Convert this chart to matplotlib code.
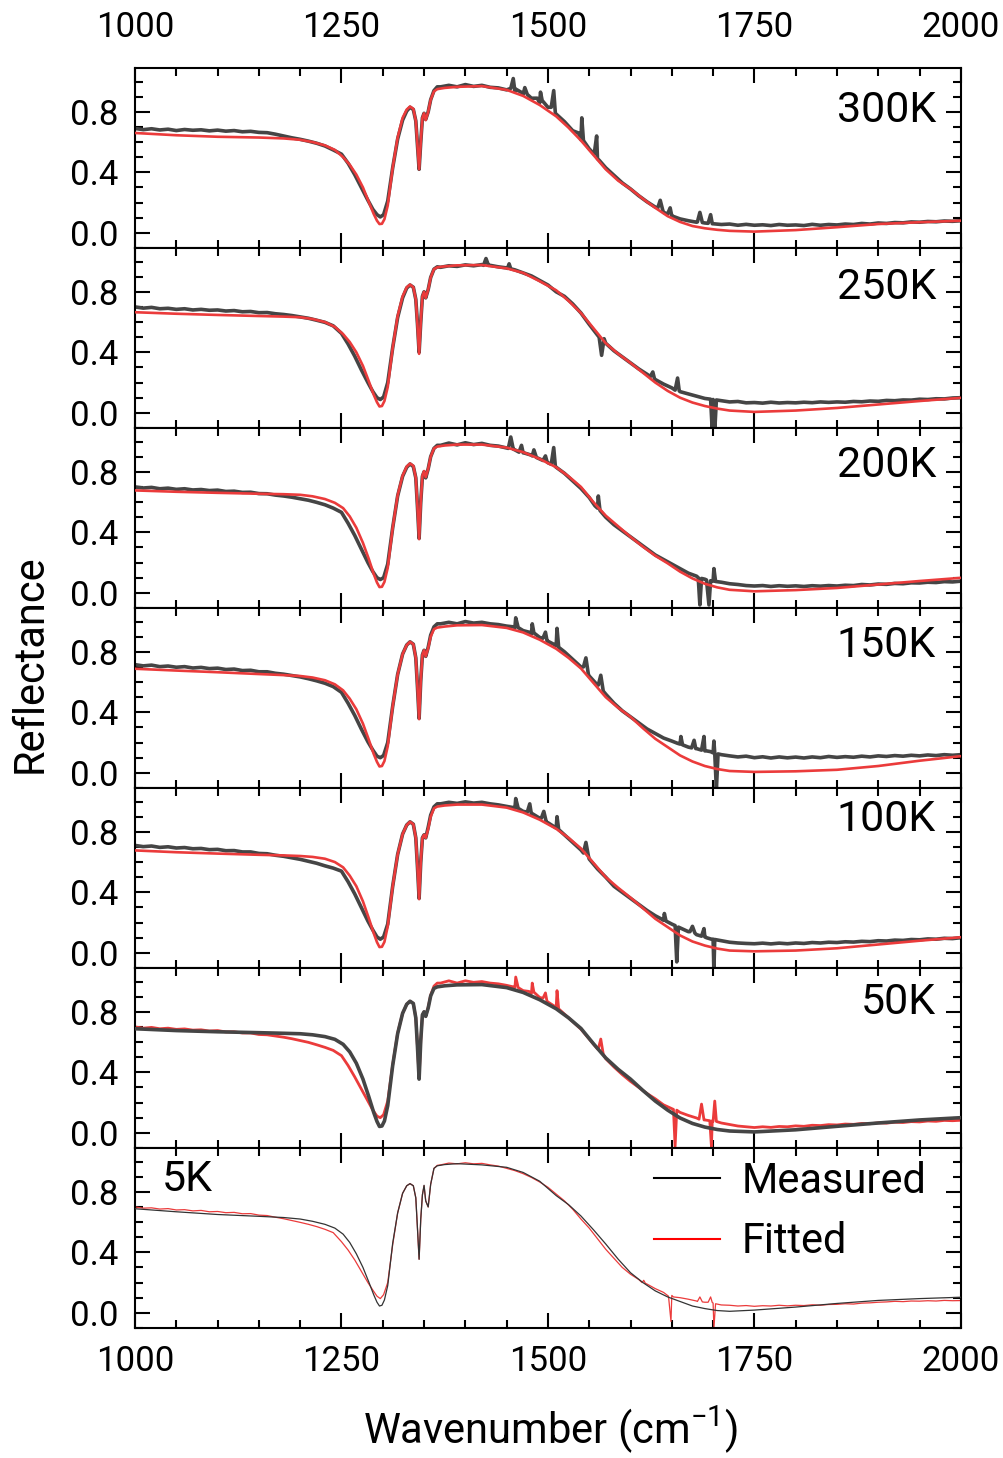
import matplotlib.pyplot as plt
import numpy as np
from matplotlib.lines import Line2D
from matplotlib.ticker import MultipleLocator

plt.rcParams["font.family"] = "Roboto"
plt.rcParams["mathtext.fontset"] = "custom"
plt.rcParams["mathtext.rm"] = "Roboto"
plt.rcParams["mathtext.default"] = "regular"

# wavenumber grid of the measured spectra (cm-1)
wn_meas = (list(range(1000, 1250, 10))
           + [1250, 1258, 1266, 1274, 1282, 1288, 1293, 1297, 1301, 1306, 1312,
              1318, 1324, 1329, 1333, 1337, 1340, 1342, 1344, 1346, 1348, 1350,
              1352, 1355, 1358, 1362, 1366]
           + list(range(1370, 2001, 10)))

# wavenumber grid of the fitted curves
wn_fit = [1000, 1050, 1100, 1150, 1180, 1200, 1215, 1230, 1242, 1252, 1260, 1268, 1276,
          1283, 1289, 1293, 1296, 1299, 1302, 1306, 1312, 1318, 1324, 1329, 1333, 1337,
          1340, 1342, 1344, 1346, 1348, 1350, 1352, 1355, 1358, 1362, 1366, 1375, 1390,
          1420, 1450, 1470, 1490, 1510, 1525, 1540, 1555, 1570, 1585, 1600, 1615, 1630,
          1645, 1660, 1675, 1690, 1705, 1720, 1750, 1800, 1850, 1900, 1950, 2000]

# measured reflectance
m300 = [0.690, 0.682, 0.688, 0.680, 0.685, 0.676, 0.683, 0.678, 0.681, 0.674, 0.679, 0.672, 0.676, 0.668, 0.671, 0.664, 0.662, 0.652, 0.640, 0.628, 0.618, 0.606, 0.592, 0.574, 0.548,
        0.52, 0.46, 0.385, 0.30, 0.215, 0.155, 0.12, 0.105, 0.12, 0.21, 0.43, 0.62, 0.745, 0.805, 0.83, 0.815, 0.74, 0.58, 0.42, 0.60, 0.76, 0.79, 0.75, 0.80, 0.88, 0.94, 0.965,
        0.965, 0.975, 0.965, 0.98, 0.968, 0.975, 0.962, 0.958, 0.945, 0.935, 0.915, 0.89, 0.86, 0.83, 0.785, 0.735, 0.675, 0.615, 0.555, 0.49, 0.43, 0.38, 0.33, 0.29, 0.245, 0.205, 0.17, 0.135, 0.11, 0.092, 0.08, 0.07,
        0.065, 0.06, 0.055, 0.058, 0.05, 0.056, 0.05, 0.053, 0.048, 0.055, 0.05, 0.052, 0.048, 0.056, 0.05, 0.055, 0.052, 0.058, 0.055, 0.062, 0.058, 0.065, 0.062, 0.068, 0.066, 0.072, 0.07, 0.075, 0.073, 0.078, 0.076, 0.08]
m250 = [0.700, 0.692, 0.697, 0.688, 0.691, 0.684, 0.688, 0.680, 0.684, 0.678, 0.680, 0.673, 0.676, 0.668, 0.670, 0.662, 0.663, 0.655, 0.650, 0.643, 0.634, 0.625, 0.612, 0.598, 0.575,
        0.525, 0.455, 0.375, 0.285, 0.20, 0.14, 0.10, 0.088, 0.105, 0.20, 0.43, 0.63, 0.76, 0.825, 0.845, 0.83, 0.75, 0.59, 0.40, 0.60, 0.77, 0.80, 0.76, 0.815, 0.895, 0.95, 0.965,
        0.962, 0.972, 0.968, 0.978, 0.972, 0.98, 0.975, 0.965, 0.958, 0.945, 0.925, 0.905, 0.875, 0.845, 0.80, 0.77, 0.72, 0.66, 0.585, 0.515, 0.46, 0.41, 0.37, 0.33, 0.29, 0.255, 0.22, 0.19, 0.165, 0.14, 0.125, 0.11,
        0.095, 0.088, 0.08, 0.072, 0.075, 0.066, 0.068, 0.064, 0.07, 0.065, 0.068, 0.066, 0.07, 0.067, 0.072, 0.069, 0.072, 0.07, 0.075, 0.073, 0.078, 0.076, 0.082, 0.08, 0.085, 0.084, 0.09, 0.088, 0.093, 0.092, 0.098, 0.10]
m200 = [0.700, 0.693, 0.697, 0.688, 0.692, 0.684, 0.688, 0.680, 0.683, 0.676, 0.679, 0.670, 0.672, 0.664, 0.665, 0.656, 0.655, 0.646, 0.640, 0.632, 0.622, 0.612, 0.598, 0.582, 0.560,
        0.532, 0.46, 0.38, 0.29, 0.20, 0.14, 0.10, 0.088, 0.10, 0.19, 0.43, 0.64, 0.77, 0.83, 0.852, 0.835, 0.76, 0.57, 0.36, 0.60, 0.77, 0.80, 0.76, 0.82, 0.90, 0.955, 0.975,
        0.975, 0.99, 0.978, 0.992, 0.98, 0.988, 0.975, 0.97, 0.958, 0.945, 0.925, 0.91, 0.885, 0.86, 0.83, 0.79, 0.74, 0.69, 0.63, 0.56, 0.50, 0.45, 0.41, 0.37, 0.33, 0.29, 0.25, 0.22, 0.19, 0.16, 0.13, 0.11,
        0.09, 0.077, 0.07, 0.06, 0.055, 0.048, 0.045, 0.048, 0.042, 0.047, 0.043, 0.046, 0.042, 0.047, 0.044, 0.048, 0.045, 0.05, 0.048, 0.055, 0.052, 0.058, 0.056, 0.062, 0.06, 0.066, 0.065, 0.07, 0.068, 0.074, 0.072, 0.077]
m150 = [0.715, 0.707, 0.712, 0.702, 0.706, 0.698, 0.702, 0.693, 0.697, 0.689, 0.692, 0.683, 0.686, 0.676, 0.678, 0.668, 0.668, 0.658, 0.652, 0.643, 0.634, 0.622, 0.608, 0.592, 0.570,
        0.532, 0.46, 0.38, 0.29, 0.205, 0.15, 0.11, 0.10, 0.115, 0.20, 0.44, 0.65, 0.785, 0.845, 0.866, 0.85, 0.76, 0.57, 0.36, 0.61, 0.78, 0.81, 0.77, 0.83, 0.91, 0.965, 0.985,
        0.985, 0.995, 0.985, 1.0, 0.99, 0.995, 0.985, 0.98, 0.97, 0.96, 0.94, 0.92, 0.895, 0.87, 0.84, 0.80, 0.75, 0.70, 0.64, 0.58, 0.52, 0.46, 0.41, 0.37, 0.33, 0.29, 0.26, 0.23, 0.21, 0.19, 0.17, 0.16,
        0.145, 0.132, 0.12, 0.112, 0.105, 0.11, 0.10, 0.106, 0.098, 0.105, 0.099, 0.104, 0.098, 0.105, 0.10, 0.108, 0.102, 0.107, 0.103, 0.11, 0.105, 0.112, 0.108, 0.114, 0.11, 0.116, 0.112, 0.118, 0.114, 0.12, 0.116, 0.12]
m100 = [0.710, 0.702, 0.706, 0.697, 0.701, 0.693, 0.696, 0.688, 0.690, 0.682, 0.684, 0.675, 0.676, 0.667, 0.667, 0.657, 0.655, 0.645, 0.638, 0.628, 0.618, 0.605, 0.592, 0.575, 0.560,
        0.54, 0.47, 0.39, 0.30, 0.21, 0.15, 0.105, 0.09, 0.105, 0.19, 0.44, 0.65, 0.785, 0.845, 0.866, 0.85, 0.76, 0.57, 0.36, 0.60, 0.76, 0.78, 0.76, 0.83, 0.91, 0.965, 0.985,
        0.985, 0.995, 0.988, 0.998, 0.99, 0.995, 0.985, 0.978, 0.968, 0.955, 0.935, 0.915, 0.89, 0.86, 0.825, 0.78, 0.73, 0.68, 0.62, 0.555, 0.50, 0.44, 0.40, 0.36, 0.32, 0.28, 0.245, 0.215, 0.19, 0.165, 0.14, 0.12,
        0.105, 0.09, 0.08, 0.07, 0.065, 0.062, 0.06, 0.064, 0.059, 0.064, 0.06, 0.065, 0.062, 0.068, 0.065, 0.07, 0.068, 0.073, 0.071, 0.076, 0.074, 0.08, 0.078, 0.084, 0.082, 0.088, 0.086, 0.092, 0.09, 0.096, 0.094, 0.10]
m50 = [0.700, 0.692, 0.697, 0.688, 0.692, 0.684, 0.687, 0.679, 0.681, 0.673, 0.676, 0.667, 0.668, 0.660, 0.660, 0.650, 0.648, 0.640, 0.632, 0.622, 0.610, 0.598, 0.582, 0.565, 0.545,
       0.51, 0.445, 0.37, 0.29, 0.21, 0.15, 0.11, 0.10, 0.12, 0.21, 0.45, 0.66, 0.79, 0.85, 0.87, 0.855, 0.76, 0.57, 0.36, 0.61, 0.78, 0.80, 0.77, 0.83, 0.91, 0.97, 0.99,
       0.99, 1.005, 0.99, 1.005, 0.995, 1.0, 0.99, 0.985, 0.975, 0.96, 0.94, 0.92, 0.895, 0.865, 0.83, 0.785, 0.735, 0.685, 0.62, 0.555, 0.49, 0.435, 0.385, 0.34, 0.30, 0.26, 0.225, 0.185, 0.16, 0.135, 0.115, 0.098,
       0.085, 0.075, 0.065, 0.055, 0.045, 0.04, 0.035, 0.04, 0.036, 0.042, 0.04, 0.046, 0.043, 0.05, 0.048, 0.054, 0.052, 0.058, 0.056, 0.062, 0.06, 0.066, 0.064, 0.07, 0.068, 0.074, 0.072, 0.078, 0.076, 0.082, 0.08, 0.083]
m5 = [0.700, 0.692, 0.694, 0.686, 0.689, 0.680, 0.682, 0.674, 0.677, 0.668, 0.670, 0.662, 0.664, 0.655, 0.656, 0.646, 0.643, 0.632, 0.622, 0.610, 0.598, 0.585, 0.570, 0.552, 0.530,
      0.47, 0.415, 0.35, 0.275, 0.20, 0.15, 0.11, 0.094, 0.12, 0.20, 0.45, 0.66, 0.79, 0.84, 0.854, 0.84, 0.76, 0.56, 0.354, 0.62, 0.78, 0.84, 0.74, 0.70, 0.85, 0.955, 0.975,
      0.978, 0.99, 0.985, 0.992, 0.985, 0.988, 0.978, 0.97, 0.955, 0.94, 0.92, 0.895, 0.865, 0.83, 0.785, 0.74, 0.685, 0.62, 0.56, 0.49, 0.42, 0.36, 0.30, 0.255, 0.22, 0.19, 0.16, 0.135, 0.115, 0.10, 0.09, 0.078,
      0.07, 0.065, 0.052, 0.05, 0.045, 0.048, 0.043, 0.047, 0.045, 0.05, 0.046, 0.05, 0.048, 0.053, 0.05, 0.055, 0.056, 0.06, 0.058, 0.064, 0.066, 0.07, 0.072, 0.076, 0.074, 0.078, 0.077, 0.08, 0.078, 0.082, 0.08, 0.081]

# narrow features (sharp lines / detector glitches) in the measured spectra
spk300 = [(1455, 0.955), (1458, 1.02), (1461, 0.95), (1469, 0.925), (1472, 0.96), (1475, 0.915),
          (1487, 0.89), (1491, 0.93), (1493, 0.875), (1504, 0.83), (1507, 0.94), (1509, 0.79),
          (1537, 0.66), (1541, 0.76), (1543, 0.61), (1556, 0.52), (1559, 0.64), (1562, 0.48),
          (1633, 0.165), (1636, 0.215), (1639, 0.15), (1645, 0.125), (1648, 0.165), (1651, 0.11),
          (1681, 0.072), (1684, 0.135), (1687, 0.068), (1694, 0.063), (1697, 0.12), (1699, 0.06)]
spk250 = [(1422, 0.975), (1425, 1.02), (1428, 0.975), (1451, 0.955), (1453, 0.985), (1455, 0.952),
          (1562, 0.50), (1565, 0.38), (1568, 0.49), (1624, 0.24), (1627, 0.27), (1629, 0.225),
          (1654, 0.15), (1657, 0.23), (1659, 0.145), (1697, 0.09), (1699, -0.12), (1701, 0.06),
          (1702, -0.12), (1704, 0.085)]
spk200 = [(1452, 0.955), (1455, 1.03), (1458, 0.95), (1465, 0.93), (1468, 0.975), (1471, 0.925),
          (1481, 0.905), (1483, 0.945), (1486, 0.895), (1494, 0.875), (1497, 0.905), (1499, 0.865),
          (1504, 0.85), (1507, 0.96), (1509, 0.835), (1557, 0.575), (1561, 0.64), (1563, 0.545),
          (1682, 0.10), (1684, -0.08), (1686, 0.095), (1692, 0.085), (1695, -0.08), (1697, 0.08),
          (1699, 0.078), (1701, 0.16), (1703, 0.075)]
spk150 = [(1458, 0.965), (1461, 1.025), (1464, 0.96), (1477, 0.93), (1481, 0.985), (1483, 0.925),
          (1494, 0.89), (1497, 0.93), (1499, 0.87), (1507, 0.85), (1511, 0.955), (1513, 0.83),
          (1543, 0.70), (1546, 0.76), (1549, 0.65), (1561, 0.58), (1564, 0.645), (1567, 0.54),
          (1657, 0.195), (1661, 0.24), (1663, 0.185), (1674, 0.165), (1677, 0.215), (1679, 0.16),
          (1686, 0.15), (1689, 0.24), (1692, 0.145), (1697, 0.14), (1701, 0.21), (1702, 0.13),
          (1704, -0.11), (1706, 0.125)]
spk100 = [(1458, 0.96), (1461, 1.02), (1464, 0.955), (1475, 0.93), (1478, 0.985), (1481, 0.92),
          (1492, 0.89), (1495, 0.935), (1498, 0.865), (1507, 0.835), (1511, 0.90), (1513, 0.815),
          (1543, 0.66), (1546, 0.73), (1549, 0.64), (1637, 0.225), (1641, 0.26), (1643, 0.21),
          (1654, 0.18), (1656, -0.06), (1658, 0.17), (1672, 0.14), (1675, 0.175), (1678, 0.13),
          (1686, 0.11), (1689, 0.16), (1692, 0.10), (1698, 0.09), (1701, -0.11), (1702, 0.088)]
spk50 = [(1458, 0.965), (1461, 1.03), (1464, 0.96), (1477, 0.935), (1481, 0.99), (1483, 0.93),
         (1494, 0.89), (1497, 0.925), (1499, 0.865), (1507, 0.84), (1511, 0.94), (1513, 0.82),
         (1561, 0.555), (1564, 0.62), (1567, 0.52), (1652, 0.155), (1654, -0.09), (1656, 0.15),
         (1683, 0.09), (1686, 0.19), (1689, 0.085), (1696, 0.08), (1698, -0.09), (1699, 0.08),
         (1702, 0.21), (1704, 0.075)]
spk5 = [(1614, 0.20), (1616, 0.215), (1618, 0.195), (1646, 0.11), (1649, -0.057), (1652, 0.105),
        (1681, 0.075), (1684, 0.105), (1687, 0.072), (1694, 0.07), (1697, 0.105), (1699, 0.068),
        (1701, -0.10), (1703, 0.06)]

# fitted reflectance
f300 = [0.660, 0.645, 0.635, 0.630, 0.624, 0.615, 0.600, 0.578, 0.548, 0.500, 0.450, 0.385, 0.300,
        0.205, 0.125, 0.080, 0.058, 0.060, 0.090, 0.180, 0.430, 0.630, 0.760, 0.815, 0.835, 0.820,
        0.740, 0.580, 0.420, 0.600, 0.760, 0.790, 0.745, 0.800, 0.880, 0.935, 0.950, 0.958, 0.965,
        0.970, 0.945, 0.905, 0.845, 0.770, 0.695, 0.610, 0.515, 0.420, 0.345, 0.290, 0.225, 0.165,
        0.110, 0.072, 0.045, 0.030, 0.020, 0.013, 0.008, 0.018, 0.037, 0.058, 0.070, 0.080]
f250 = [0.665, 0.655, 0.647, 0.640, 0.636, 0.632, 0.620, 0.600, 0.568, 0.520, 0.468, 0.400, 0.310,
        0.210, 0.120, 0.070, 0.042, 0.045, 0.078, 0.170, 0.430, 0.640, 0.770, 0.830, 0.848, 0.830,
        0.750, 0.580, 0.390, 0.600, 0.770, 0.800, 0.760, 0.815, 0.895, 0.950, 0.962, 0.968, 0.975,
        0.977, 0.955, 0.925, 0.870, 0.810, 0.740, 0.660, 0.560, 0.460, 0.390, 0.330, 0.265, 0.200,
        0.145, 0.100, 0.068, 0.045, 0.028, 0.015, 0.006, 0.015, 0.032, 0.055, 0.078, 0.099]
f200 = [0.677, 0.668, 0.661, 0.655, 0.652, 0.648, 0.638, 0.620, 0.595, 0.560, 0.505, 0.430, 0.330,
        0.225, 0.125, 0.068, 0.038, 0.040, 0.072, 0.165, 0.430, 0.645, 0.775, 0.835, 0.855, 0.840,
        0.760, 0.570, 0.355, 0.600, 0.775, 0.805, 0.765, 0.820, 0.900, 0.955, 0.967, 0.974, 0.980,
        0.980, 0.960, 0.930, 0.885, 0.830, 0.770, 0.700, 0.600, 0.510, 0.440, 0.370, 0.305, 0.245,
        0.195, 0.140, 0.095, 0.060, 0.036, 0.020, 0.010, 0.018, 0.032, 0.055, 0.078, 0.099]
f150 = [0.688, 0.676, 0.665, 0.653, 0.646, 0.640, 0.630, 0.612, 0.585, 0.545, 0.490, 0.420, 0.325,
        0.220, 0.125, 0.072, 0.042, 0.045, 0.078, 0.175, 0.440, 0.650, 0.785, 0.845, 0.866, 0.850,
        0.760, 0.570, 0.355, 0.610, 0.780, 0.810, 0.770, 0.825, 0.900, 0.950, 0.960, 0.967, 0.975,
        0.977, 0.958, 0.928, 0.880, 0.820, 0.760, 0.690, 0.595, 0.500, 0.430, 0.370, 0.295, 0.225,
        0.170, 0.115, 0.075, 0.045, 0.025, 0.012, 0.006, 0.010, 0.020, 0.045, 0.080, 0.110]
f100 = [0.677, 0.665, 0.656, 0.648, 0.644, 0.640, 0.634, 0.622, 0.600, 0.565, 0.510, 0.440, 0.340,
        0.230, 0.130, 0.070, 0.038, 0.040, 0.072, 0.175, 0.440, 0.650, 0.785, 0.845, 0.866, 0.850,
        0.760, 0.570, 0.355, 0.600, 0.760, 0.780, 0.760, 0.820, 0.900, 0.955, 0.967, 0.974, 0.980,
        0.980, 0.960, 0.928, 0.880, 0.820, 0.760, 0.690, 0.595, 0.500, 0.430, 0.365, 0.295, 0.225,
        0.170, 0.115, 0.075, 0.048, 0.028, 0.015, 0.010, 0.015, 0.030, 0.055, 0.080, 0.103]
f50 = [0.688, 0.676, 0.668, 0.662, 0.658, 0.655, 0.648, 0.636, 0.618, 0.585, 0.535, 0.460, 0.355,
       0.240, 0.135, 0.075, 0.042, 0.045, 0.078, 0.180, 0.445, 0.655, 0.790, 0.850, 0.870, 0.855,
       0.760, 0.570, 0.355, 0.610, 0.780, 0.800, 0.770, 0.825, 0.905, 0.955, 0.965, 0.972, 0.978,
       0.980, 0.960, 0.928, 0.880, 0.820, 0.760, 0.690, 0.590, 0.495, 0.420, 0.355, 0.280, 0.210,
       0.150, 0.098, 0.062, 0.038, 0.022, 0.012, 0.006, 0.020, 0.043, 0.065, 0.085, 0.100]
f5 = [0.688, 0.668, 0.650, 0.638, 0.630, 0.620, 0.605, 0.585, 0.560, 0.520, 0.465, 0.390, 0.300,
      0.205, 0.120, 0.070, 0.045, 0.050, 0.085, 0.180, 0.460, 0.660, 0.790, 0.840, 0.854, 0.840,
      0.760, 0.560, 0.354, 0.620, 0.780, 0.843, 0.740, 0.700, 0.850, 0.955, 0.972, 0.980, 0.986,
      0.978, 0.962, 0.928, 0.870, 0.775, 0.715, 0.640, 0.550, 0.455, 0.355, 0.265, 0.200, 0.145,
      0.105, 0.075, 0.045, 0.028, 0.015, 0.010, 0.018, 0.038, 0.062, 0.082, 0.094, 0.103]

temps = ["300K", "250K", "200K", "150K", "100K", "50K", "5K"]
measured = [m300, m250, m200, m150, m100, m50, m5]
spikes = [spk300, spk250, spk200, spk150, spk100, spk50, spk5]
fitted = [f300, f250, f200, f150, f100, f50, f5]
label_y = [0.81, 0.83, 0.84, 0.84, 0.88, 0.86, 0.88]

GRAY = "#454545"
RED = "#eb3b3b"


def merge(base, spk):
    w = np.concatenate([wn_meas, [s[0] for s in spk]])
    v = np.concatenate([base, [s[1] for s in spk]])
    order = np.argsort(w, kind="stable")
    return w[order], v[order]


fig = plt.figure(figsize=(10.04, 14.58), dpi=100)
axes = fig.subplots(7, 1, sharex=True)
fig.subplots_adjust(left=0.1345, right=0.957, top=0.9534, bottom=0.0892, hspace=0)

for i, ax in enumerate(axes):
    w, v = merge(measured[i], spikes[i])
    if i < 5:
        ax.plot(w, v, color=GRAY, lw=2.6, zorder=2)
        ax.plot(wn_fit, fitted[i], color=RED, lw=1.9, zorder=3)
    elif i == 5:
        ax.plot(w, v, color=RED, lw=2.0, zorder=2)
        ax.plot(wn_fit, fitted[i], color=GRAY, lw=2.6, zorder=3)
    else:
        ax.plot(w, v, color=RED, lw=0.9, zorder=2)
        ax.plot(wn_fit, fitted[i], color="#333333", lw=0.9, zorder=3)

    ax.set_xlim(1000, 2000)
    ax.set_ylim(-0.1, 1.09)
    ax.xaxis.set_major_locator(MultipleLocator(250))
    ax.xaxis.set_minor_locator(MultipleLocator(50))
    ax.yaxis.set_major_locator(MultipleLocator(0.4))
    ax.yaxis.set_minor_locator(MultipleLocator(0.1))
    ax.tick_params(which="both", direction="in", top=True, right=True, width=1.5,
                   labelsize=25, labelbottom=False)
    ax.tick_params(which="major", length=11)
    ax.tick_params(which="minor", length=5.5)
    ax.tick_params(axis="y", pad=12)
    for sp in ax.spines.values():
        sp.set_linewidth(1.5)

    if i < 6:
        ax.text(0.97, label_y[i], temps[i], transform=ax.get_yaxis_transform(),
                ha="right", va="center", fontsize=31)
    else:
        ax.text(0.033, label_y[i], temps[i], transform=ax.get_yaxis_transform(),
                ha="left", va="center", fontsize=31)

axes[0].tick_params(axis="x", labeltop=True, pad=17)
axes[-1].tick_params(axis="x", labelbottom=True, pad=12)

handles = [Line2D([], [], color="black", lw=1.5), Line2D([], [], color="red", lw=1.5)]
axes[-1].legend(handles, ["Measured", "Fitted"], loc="upper right", frameon=False,
                fontsize=30, handlelength=1.6, handletextpad=0.5, labelspacing=0.47,
                borderaxespad=0, borderpad=0, bbox_to_anchor=(0.958, 0.93))

fig.text(0.548, 0.002, "Wavenumber (cm$^{-1}$)", ha="center", va="bottom", fontsize=30)
fig.text(0.03, 0.545, "Reflectance", ha="center", va="center", rotation=90, fontsize=30)

fig.savefig("out.png", dpi=100)
